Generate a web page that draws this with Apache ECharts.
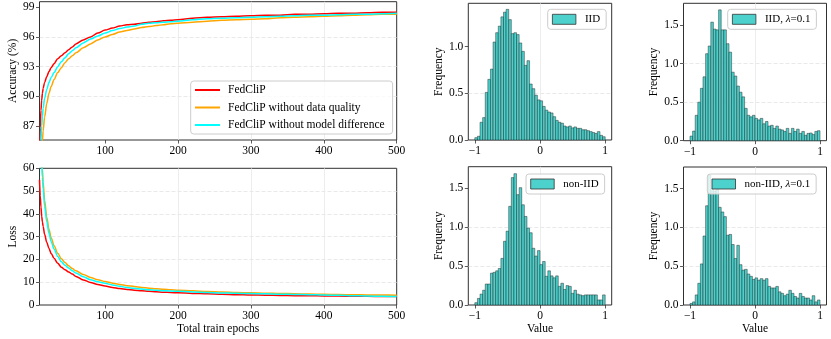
<!DOCTYPE html>
<html><head><meta charset="utf-8">
<script src="https://cdn.jsdelivr.net/npm/echarts@6/dist/echarts.min.js"></script>
<style>html,body{margin:0;padding:0;background:#fff}#c{width:831px;height:339px}</style>
</head><body><div id="c"></div><script>
// ---------- data ----------
const epochs = [10,11,12,13,14,15,17,20,23,26,30,35,40,45,50,55,60,70,80,90,100,110,120,130,140,150,160,170,180,190,200,220,240,260,280,300,320,340,360,380,400,420,440,460,480,500];
const accFedCliP = [84.0,86.8,88.6,89.6,90.3,90.8,91.4,92.0,92.5,92.9,93.3,93.8,94.1,94.4,94.7,95.0,95.3,95.7,96.0,96.4,96.7,96.9,97.1,97.25,97.3,97.4,97.5,97.55,97.65,97.7,97.75,97.9,98.0,98.05,98.1,98.15,98.2,98.2,98.3,98.3,98.35,98.4,98.4,98.45,98.5,98.5];
const accNoQuality = [78.0,80.5,82.5,84.2,85.5,86.5,87.9,89.3,90.3,91.0,91.7,92.4,92.9,93.4,93.8,94.1,94.4,94.9,95.3,95.7,96.0,96.25,96.5,96.65,96.8,96.95,97.05,97.15,97.25,97.35,97.4,97.5,97.6,97.7,97.75,97.8,97.85,97.95,98.0,98.05,98.1,98.15,98.2,98.25,98.3,98.3];
const accNoDiff = [80.5,83.5,85.5,87.0,88.0,88.8,89.8,90.7,91.4,91.9,92.4,93.0,93.5,93.9,94.3,94.6,94.9,95.4,95.8,96.1,96.4,96.65,96.85,97.0,97.1,97.3,97.4,97.45,97.5,97.55,97.6,97.75,97.85,97.9,97.95,98.0,98.05,98.1,98.15,98.2,98.2,98.25,98.3,98.3,98.35,98.4];
const lossFedCliP = [55,48,43,39,36.5,34.5,31,27.5,24.8,22.6,20.5,18.3,16.6,15.5,14.5,13.6,12.5,11.0,9.9,9.0,8.3,7.7,7.2,6.8,6.5,6.25,6.0,5.8,5.6,5.5,5.35,5.1,4.9,4.75,4.55,4.4,4.3,4.2,4.1,4.05,4.0,3.9,3.85,3.8,3.75,3.7];
const lossNoQuality = [100,85,74,66,59.5,54,46,38.5,33.3,29.5,26.0,22.7,20.3,18.6,17.2,16.0,15.0,13.4,12.1,11.1,10.3,9.6,9.0,8.5,8.1,7.7,7.4,7.1,6.9,6.7,6.5,6.2,5.95,5.7,5.5,5.35,5.2,5.05,4.95,4.8,4.7,4.6,4.5,4.4,4.35,4.3];
const lossNoDiff = [95,80,70,62,56,51,43.5,36.5,31.5,27.8,24.5,21.3,19.0,17.4,16.2,15.0,14.0,12.4,11.1,10.2,9.5,8.8,8.2,7.7,7.3,7.0,6.7,6.5,6.3,6.15,6.0,5.75,5.5,5.3,5.15,5.0,4.9,4.75,4.65,4.55,4.4,4.25,4.1,3.95,3.8,3.7];
const epochTicks = [100,200,300,400,500];
const accTicks = [87,90,93,96,99];
const lossTicks = [0,10,20,30,40,50,60];

// histogram: 50 bins from -1 to 1 (density)
const binStart = -1, binWidth = 0.04;
const histIID = [0.025,0.04,0.19,0.24,0.51,0.65,0.76,1.05,1.15,1.22,1.32,1.37,1.40,1.29,1.14,1.15,1.13,1.04,0.95,0.80,0.85,0.60,0.55,0.48,0.43,0.42,0.36,0.32,0.30,0.29,0.25,0.21,0.19,0.18,0.15,0.14,0.15,0.13,0.14,0.125,0.125,0.11,0.11,0.10,0.09,0.08,0.07,0.09,0.05,0.035];
const histIIDLambda = [0.06,0.125,0.33,0.50,0.68,0.83,1.13,1.23,1.54,1.45,1.44,1.70,1.44,1.44,1.26,1.15,0.89,0.84,0.71,0.63,0.57,0.42,0.33,0.31,0.33,0.29,0.27,0.29,0.22,0.25,0.19,0.20,0.16,0.19,0.15,0.14,0.12,0.16,0.095,0.16,0.12,0.15,0.095,0.12,0.07,0.095,0.10,0.08,0.12,0.13];
const histNonIID = [0.03,0.085,0.14,0.19,0.27,0.27,0.41,0.42,0.44,0.47,0.60,0.82,0.95,1.27,1.64,1.69,1.42,1.51,1.29,1.14,0.99,0.93,0.73,0.63,0.70,0.52,0.56,0.37,0.44,0.375,0.35,0.375,0.24,0.28,0.20,0.25,0.24,0.15,0.19,0.14,0.13,0.12,0.13,0.13,0.13,0.13,0.13,0.065,0.065,0.13];
const histNonIIDLambda = [0.02,0.04,0.13,0.28,0.53,0.89,1.28,1.68,1.50,1.47,1.49,1.26,1.20,1.14,0.90,0.91,0.78,0.60,0.77,0.52,0.45,0.46,0.40,0.37,0.33,0.35,0.32,0.34,0.32,0.34,0.24,0.22,0.22,0.24,0.17,0.15,0.12,0.14,0.19,0.15,0.11,0.09,0.15,0.11,0.09,0.09,0.065,0.12,0.04,0.065];
const valueTicks = [-1,0,1];
const freqTicksSmall = [0,0.5,1.0];
const freqTicksLarge = [0,0.5,1.0,1.5];

// ---------- styling ----------
const FONT = 'Liberation Serif';
const FS = 11.5;
const TURQ = '#4cd1cc';
const RED = '#ff0000', ORANGE = '#ffa500', CYAN = '#00ffff';
const lbl = (vals, fmt) => ({customValues: vals, fontFamily: FONT, fontSize: FS, color: '#000', margin: 5, formatter: fmt});
const tick = vals => ({show: true, customValues: vals, length: 3.5, lineStyle: {color: '#333', width: 0.8}});
const vSplit = {show: true, showMinLine: false, showMaxLine: false, lineStyle: {color: '#e8e8e8', width: 0.8}};
const hSplit = {show: true, showMinLine: false, showMaxLine: false, lineStyle: {color: '#e3e3e3', width: 0.8, type: [4, 2]}};
const noLine = {show: false, onZero: false};
const gridBase = {show: true, borderColor: '#303030', borderWidth: 1, backgroundColor: 'transparent', containLabel: false};
const nameStyle = {fontFamily: FONT, fontSize: FS, color: '#000'};
const minusFmt = v => (v < 0 ? '\u2212' + Math.abs(v) : String(v));

const grids = [
  Object.assign({left: 39.5, top: 1.7, width: 357.2, height: 138.3}, gridBase),
  Object.assign({left: 39.5, top: 168.3, width: 357.2, height: 136.7}, gridBase),
  Object.assign({left: 468.3, top: 3.3, width: 143.4, height: 136.7}, gridBase),
  Object.assign({left: 683.5, top: 3.3, width: 143, height: 137.4}, gridBase),
  Object.assign({left: 468.3, top: 166.7, width: 143.4, height: 138.3}, gridBase),
  Object.assign({left: 683.5, top: 167, width: 143, height: 138}, gridBase)
];

function epochAxis(gi, withName) {
  return {gridIndex: gi, type: 'value', min: 10, max: 500,
    axisLine: noLine, axisTick: tick(epochTicks), axisLabel: lbl(epochTicks),
    splitLine: vSplit,
    name: withName ? 'Total train epochs' : '', nameLocation: 'middle', nameGap: 18, nameTextStyle: nameStyle};
}
function valueAxis(gi, withName) {
  return {gridIndex: gi, type: 'value', min: -1.1, max: 1.1,
    axisLine: noLine, axisTick: tick(valueTicks), axisLabel: lbl(valueTicks, minusFmt),
    splitLine: vSplit,
    name: withName ? 'Value' : '', nameLocation: 'middle', nameGap: 18, nameTextStyle: nameStyle};
}
function freqAxis(gi, maxV, ticks, gap) {
  return {gridIndex: gi, type: 'value', min: 0, max: maxV,
    axisLine: noLine, axisTick: tick(ticks), axisLabel: lbl(ticks, v => v.toFixed(1)),
    splitLine: hSplit,
    name: 'Frequency', nameLocation: 'middle', nameGap: gap, nameTextStyle: nameStyle};
}

function lineSeries(name, vals, color, xi) {
  return {name, type: 'line', xAxisIndex: xi, yAxisIndex: xi,
    data: epochs.map((e, i) => [e, vals[i]]),
    showSymbol: false, symbol: 'none', smooth: 0.3, smoothMonotone: 'x', clip: true,
    lineStyle: {color, width: 1.5}, itemStyle: {color}, emphasis: {disabled: true}, animation: false};
}

function histSeries(name, vals, idx) {
  return {name, type: 'custom', xAxisIndex: idx, yAxisIndex: idx,
    data: vals.map((h, i) => [binStart + i * binWidth, binStart + (i + 1) * binWidth, h]),
    encode: {x: [0, 1], y: 2},
    itemStyle: {color: TURQ},
    renderItem(params, api) {
      const p0 = api.coord([api.value(0), 0]);
      const p1 = api.coord([api.value(1), api.value(2)]);
      return {type: 'rect',
        shape: {x: p0[0], y: p1[1], width: p1[0] - p0[0], height: p0[1] - p1[1]},
        style: {fill: TURQ, stroke: 'rgba(30,30,30,0.75)', lineWidth: 0.6}};
    },
    animation: false};
}

const legendBox = {backgroundColor: 'rgba(255,255,255,0.8)', borderColor: '#cccccc', borderWidth: 1, borderRadius: 3, selectedMode: false};
const histLegendText = {fontFamily: FONT, fontSize: 11, color: '#000', lineHeight: 12, padding: [0, 0, 0, 4],
  rich: {i: {fontFamily: FONT, fontSize: 11, fontStyle: 'italic', color: '#000'}}};
function histLegend(name, left, top) {
  return Object.assign({left, top, orient: 'horizontal', icon: 'rect', itemWidth: 23.5, itemHeight: 10,
    padding: [4, 6, 4, 4.3],
    data: [{name, itemStyle: {color: TURQ, borderColor: '#333', borderWidth: 0.8}}],
    formatter: n => n.replace('λ', '{i|λ}'),
    textStyle: histLegendText}, legendBox);
}

const option = {
  animation: false,
  grid: grids,
  xAxis: [epochAxis(0, false), epochAxis(1, true), valueAxis(2, false), valueAxis(3, false), valueAxis(4, true), valueAxis(5, true)],
  yAxis: [
    {gridIndex: 0, type: 'value', min: 85.58, max: 99.57, axisLine: noLine, axisTick: tick(accTicks), axisLabel: lbl(accTicks), splitLine: hSplit,
      name: 'Accuracy (%)', nameLocation: 'middle', nameGap: 21, nameTextStyle: nameStyle},
    {gridIndex: 1, type: 'value', min: 0, max: 60, axisLine: noLine, axisTick: tick(lossTicks), axisLabel: lbl(lossTicks), splitLine: hSplit,
      name: 'Loss', nameLocation: 'middle', nameGap: 21, nameTextStyle: nameStyle},
    freqAxis(2, 1.465, freqTicksSmall, 23),
    freqAxis(3, 1.785, freqTicksLarge, 24),
    freqAxis(4, 1.78, freqTicksLarge, 23),
    freqAxis(5, 1.78, freqTicksLarge, 24)
  ],
  legend: [
    Object.assign({left: 190.7, top: 81, orient: 'vertical', icon: 'rect', itemWidth: 25, itemHeight: 2, itemGap: 5.5,
      padding: [3, 8, 3, 4.3],
      data: ['FedCliP', 'FedCliP without data quality', 'FedCliP without model difference'],
      textStyle: {fontFamily: FONT, fontSize: 11.5, color: '#000', lineHeight: 12, padding: [0, 0, 0, 3]}}, legendBox),
    histLegend('IID', 547.7, 9.3),
    histLegend('IID, λ=0.1', 727.7, 9.3),
    histLegend('non-IID', 526, 174),
    histLegend('non-IID, λ=0.1', 707.3, 174)
  ],
  series: [
    lineSeries('FedCliP', accFedCliP, RED, 0),
    lineSeries('FedCliP without data quality', accNoQuality, ORANGE, 0),
    lineSeries('FedCliP without model difference', accNoDiff, CYAN, 0),
    lineSeries('FedCliP', lossFedCliP, RED, 1),
    lineSeries('FedCliP without data quality', lossNoQuality, ORANGE, 1),
    lineSeries('FedCliP without model difference', lossNoDiff, CYAN, 1),
    histSeries('IID', histIID, 2),
    histSeries('IID, λ=0.1', histIIDLambda, 3),
    histSeries('non-IID', histNonIID, 4),
    histSeries('non-IID, λ=0.1', histNonIIDLambda, 5)
  ]
};
const chart = echarts.init(document.getElementById('c'), null, {renderer: 'canvas'});
chart.setOption(option);
</script></body></html>
